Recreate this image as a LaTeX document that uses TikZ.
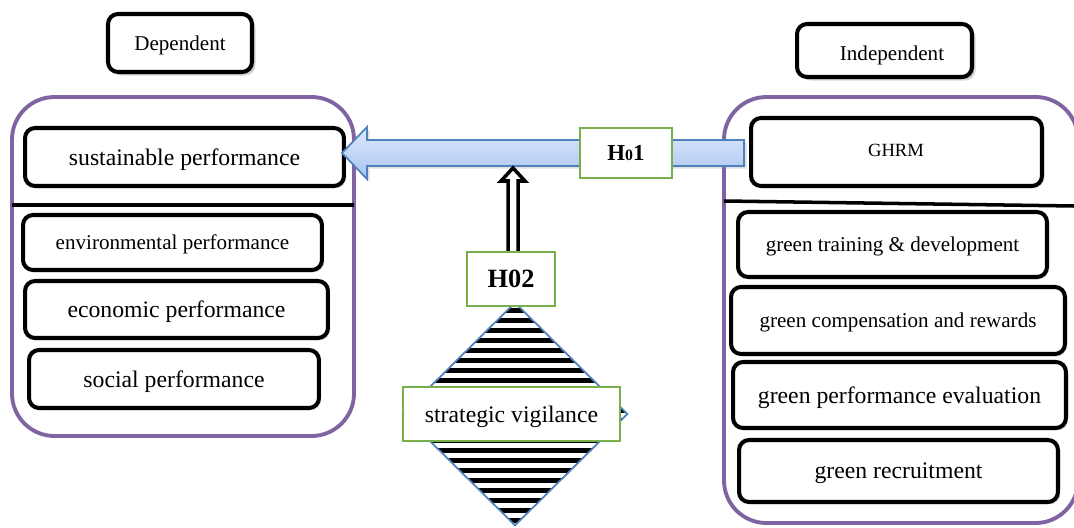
\documentclass[tikz,border=0pt]{standalone}
\usepackage{fontspec}
\setmainfont{Liberation Serif}
\usetikzlibrary{shapes.geometric,shadows,calc}
\definecolor{purp}{HTML}{8064A2}
\definecolor{grn}{HTML}{77B04A}
\definecolor{bluel}{HTML}{4F81BD}
\definecolor{arrtop}{HTML}{DDE8FB}
\definecolor{arrbot}{HTML}{A9C5F1}
\tikzset{
  group/.style={draw=purp, line width=2.2pt, rounded corners=0.85cm},
  item/.style={draw=black, line width=2.3pt, rounded corners=0.2cm, fill=white, inner sep=0pt, align=center,
    text depth=0pt, drop shadow={opacity=0.18, shadow xshift=1.3pt, shadow yshift=-1.3pt}},
  hyp/.style={draw=grn, line width=1.2pt, fill=white, inner sep=0pt, align=center, text depth=0pt},
  sepline/.style={line width=2pt, black},
  fa/.style={font=\fontsize{12}{14}\selectfont},
  fb/.style={font=\fontsize{13.5}{16}\selectfont},
  fc/.style={font=\fontsize{10.6}{12}\selectfont},
  hollowarrow/.style={draw=black, fill=white, line width=2pt, line join=miter},
}
\begin{document}
\begin{tikzpicture}[x=0.02cm, y=-0.02cm]
\clip (0,0) rectangle (1074,527);
\fill[white] (0,0) rectangle (1074,527);

% headers
\node[item, minimum width=2.88cm, minimum height=1.16cm, fa, drop shadow={opacity=0.3, shadow xshift=2pt, shadow yshift=-2pt}] (dep) at (180,43) {Dependent};
\node[item, minimum width=3.5cm, minimum height=1.06cm, drop shadow={opacity=0.3, shadow xshift=2pt, shadow yshift=-2pt}] (indep) at (884.5,50.5) {};
\node[fa, inner sep=0pt, text depth=0pt] (indeptext) at (892,53) {Independent};

% group frames
\draw[group] (12,97) rectangle (354,436);
\draw[group] (724,97) rectangle (1078,523);

% left side
\node[item, minimum width=6.38cm, minimum height=1.16cm, fb] (sust) at (184.5,157) {sustainable performance};
\draw[sepline] (12,205) -- (354,205);
\node[item, minimum width=5.98cm, minimum height=1.1cm, fa] (env) at (172.5,242.5) {environmental performance};
\node[item, minimum width=6.06cm, minimum height=1.14cm, fb] (eco) at (176.5,309.5) {economic performance};
\node[item, minimum width=5.8cm, minimum height=1.16cm, fb] (soc) at (174,379) {social performance};

% right side
\node[item, minimum width=5.82cm, minimum height=1.36cm] (ghrm) at (896.5,152) {};
\node[fc, inner sep=0pt] (ghrmtext) at (896,150) {GHRM};
\draw[sepline] (724,201) -- (1074,206);
\node[item, minimum width=6.18cm, minimum height=1.3cm, fa] (gtd) at (892.5,244.5) {green training \& development};
\node[item, minimum width=6.68cm, minimum height=1.34cm, fa] (gcr) at (898,320.5) {green compensation and rewards};
\node[item, minimum width=6.66cm, minimum height=1.32cm, fb] (gpe) at (899.5,395) {green performance evaluation};
\node[item, minimum width=6.38cm, minimum height=1.24cm, fb] (grec) at (898.5,471) {green recruitment};

% big arrow
\coordinate (atail) at (744,153);
\coordinate (atip) at (342,153);
\draw[bluel, line width=1pt, top color=arrtop, bottom color=arrbot,
      drop shadow={opacity=0.25, shadow xshift=1.5pt, shadow yshift=-1.5pt}]
  ($(atail)+(0,-13)$) -- ($(atip)+(25,-13)$) -- ($(atip)+(25,-26)$) -- (atip)
  -- ($(atip)+(25,26)$) -- ($(atip)+(25,13)$) -- ($(atail)+(0,13)$) -- cycle;
\node[hyp, minimum width=1.84cm, minimum height=1.0cm, font=\bfseries\fontsize{13}{15}\selectfont] (h01) at (626,153) {H{\fontsize{9}{10}\selectfont 0}1};

% diamond
\node[diamond, minimum width=4.48cm, minimum height=4.44cm, inner sep=0pt] (diam) at (515,414) {};
\begin{scope}
  \clip (diam.north) -- (diam.east) -- (diam.south) -- (diam.west) -- cycle;
  \foreach \yy in {300,310,...,530} \draw[line width=0.1cm] (395,\yy) -- (635,\yy);
\end{scope}
\draw[bluel, line width=1pt] (diam.north) -- (diam.east) -- (diam.south) -- (diam.west) -- cycle;

% H02 box and hollow arrow
\node[hyp, minimum width=1.76cm, minimum height=1.08cm, font=\bfseries\fontsize{15}{17}\selectfont] (h02) at (511,279) {H02};
\coordinate (dtip) at (513,168);
\path (h02.north -| dtip) coordinate (dbase);
\draw[hollowarrow] ($(dbase)+(-5,0)$) -- ($(dtip)+(-5,13)$) -- ($(dtip)+(-12,13)$) -- (dtip)
  -- ($(dtip)+(12,13)$) -- ($(dtip)+(5,13)$) -- ($(dbase)+(5,0)$);

\node[hyp, minimum width=4.34cm, minimum height=1.08cm, fb] (sv) at (511.5,414) {strategic vigilance};
\end{tikzpicture}
\end{document}
